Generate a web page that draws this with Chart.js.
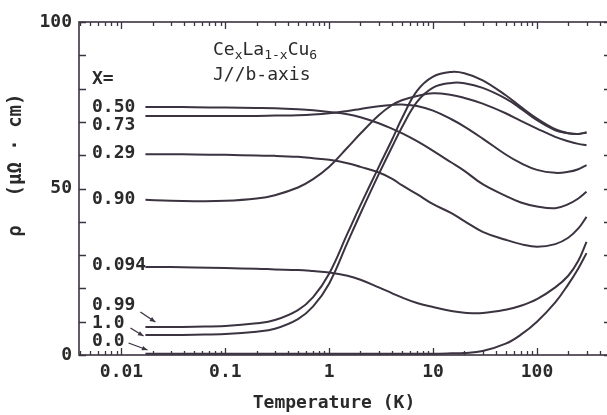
<!DOCTYPE html>
<html>
<head>
<meta charset="utf-8">
<title>CexLa1-xCu6 resistivity, J//b</title>
<script src="https://cdn.jsdelivr.net/npm/chart.js@4.4.1/dist/chart.umd.min.js"></script>
<style>
  html, body { margin: 0; padding: 0; background: #fff; overflow: hidden; }
  #wrap { width: 615px; height: 415px; }
</style>
</head>
<body>
<div id="wrap"><canvas id="rho" width="615" height="415"></canvas></div>
<script>
// temperature grid (K), shared by every curve
const TEMPS = [0.017, 0.03, 0.05, 0.1, 0.2, 0.3, 0.5, 0.7, 1, 1.5, 2, 3, 4, 5, 7, 10, 15, 20, 30, 50, 70, 100, 150, 200, 250, 300];

// resistivity rho (uOhm cm) for each Ce concentration x
const RHO_050  = [74.5, 74.5, 74.4, 74.3, 74.2, 74.1, 73.8, 73.5, 73.0, 72.3, 71.4, 69.6, 68.0, 66.6, 64.2, 61.3, 57.8, 55.3, 51.3, 47.8, 45.8, 44.6, 44.1, 45.3, 47.0, 49.0];
const RHO_073  = [71.8, 71.8, 71.8, 71.8, 71.8, 71.9, 72.0, 72.2, 72.6, 73.3, 73.9, 74.7, 75.1, 75.2, 74.8, 73.4, 70.8, 68.6, 65.0, 60.2, 57.6, 55.6, 54.7, 55.0, 55.8, 57.0];
const RHO_029  = [60.3, 60.3, 60.2, 60.1, 59.9, 59.8, 59.5, 59.1, 58.6, 57.6, 56.5, 54.8, 53.0, 51.0, 48.3, 45.3, 42.6, 40.2, 37.0, 34.6, 33.3, 32.5, 33.3, 35.2, 38.0, 41.5];
const RHO_090  = [46.6, 46.3, 46.2, 46.3, 47.0, 48.0, 50.3, 52.8, 56.5, 62.3, 66.5, 72.0, 75.0, 76.5, 77.8, 78.6, 78.1, 77.2, 75.5, 72.6, 70.3, 68.0, 65.5, 64.2, 63.4, 63.0];
const RHO_0094 = [26.4, 26.4, 26.3, 26.1, 25.9, 25.7, 25.5, 25.2, 24.8, 23.8, 22.6, 20.3, 18.6, 17.3, 15.6, 14.4, 13.2, 12.7, 12.6, 13.6, 14.8, 16.8, 20.3, 23.8, 28.3, 34.0];
const RHO_099  = [8.4, 8.4, 8.5, 8.7, 9.5, 10.5, 13.5, 17.4, 24.5, 36.5, 45.0, 56.5, 64.5, 71.0, 79.3, 83.6, 85.0, 84.6, 82.5, 78.0, 74.5, 71.0, 67.8, 66.6, 66.4, 66.8];
const RHO_100  = [6.0, 6.0, 6.1, 6.3, 7.0, 7.9, 10.8, 14.6, 21.5, 33.8, 42.5, 54.3, 62.3, 68.3, 76.0, 80.3, 81.7, 81.6, 80.2, 77.0, 74.0, 70.5, 67.5, 66.6, 66.4, 66.8];
const RHO_000  = [0.4, 0.4, 0.4, 0.4, 0.4, 0.4, 0.4, 0.4, 0.4, 0.4, 0.4, 0.4, 0.4, 0.4, 0.4, 0.4, 0.5, 0.6, 1.2, 3.4, 6.1, 10.0, 15.8, 21.2, 26.0, 30.6];

const CONC_LABELS = ['0.50', '0.73', '0.29', '0.90', '0.094', '0.99', '1.0', '0.0'];
const CONC_SERIES = [RHO_050, RHO_073, RHO_029, RHO_090, RHO_0094, RHO_099, RHO_100, RHO_000];
// where each x label sits on the rho axis (left margin of the plot)
const CONC_LABEL_RHO = [74.3, 69.0, 60.5, 46.7, 27.0, 14.9, 9.5, 4.1];

const X_TICKS = [0.01, 0.1, 1, 10, 100];
const X_TICK_LABELS = ['0.01', '0.1', '1', '10', '100'];
const Y_TICKS = [0, 50, 100];
const Y_TICK_LABELS = ['0', '50', '100'];

const INK = '#2a2a2a';
const LINE = '#3b3340';
const MONO = '"DejaVu Sans Mono", monospace';

// arrows pointing from the crowded labels to their curves: [T0, rho0, T1, rho1]
const ARROWS = [
  [0.0152, 12.9, 0.0212, 9.9],
  [0.0122, 8.1, 0.0163, 5.7],
  [0.0117, 3.6, 0.0178, 1.5]
];

function arrow(ctx, x0, y0, x1, y1) {
  const a = Math.atan2(y1 - y0, x1 - x0);
  ctx.beginPath();
  ctx.moveTo(x0, y0);
  ctx.lineTo(x1, y1);
  ctx.stroke();
  ctx.beginPath();
  ctx.moveTo(x1, y1);
  ctx.lineTo(x1 - 6 * Math.cos(a - 0.4), y1 - 6 * Math.sin(a - 0.4));
  ctx.lineTo(x1 - 6 * Math.cos(a + 0.4), y1 - 6 * Math.sin(a + 0.4));
  ctx.closePath();
  ctx.fill();
}

// text with subscript pieces: [[text, isSub], ...]
function chem(ctx, parts, x, y) {
  parts.forEach(([t, sub]) => {
    ctx.font = sub ? '13px ' + MONO : '18px ' + MONO;
    ctx.fillText(t, x, sub ? y + 4 : y);
    x += ctx.measureText(t).width;
  });
}

// box frame, inward ticks and all the text in and around the plot
const frame = {
  id: 'frame',
  afterDraw(chart) {
    const { ctx, chartArea: a, scales: { x, y } } = chart;
    ctx.save();
    ctx.strokeStyle = LINE;
    ctx.fillStyle = INK;
    ctx.lineWidth = 1.6;
    ctx.strokeRect(a.left, a.top, a.right - a.left, a.bottom - a.top);

    ctx.lineWidth = 1.3;
    ctx.beginPath();
    for (let k = -3; k <= 3; k++) {
      for (let m = 1; m <= 9; m++) {
        const v = m * Math.pow(10, k);
        if (v < x.min || v > x.max) continue;
        const px = Math.round(x.getPixelForValue(v)) + 0.5;
        const len = m === 1 ? 7 : 4;
        ctx.moveTo(px, a.bottom); ctx.lineTo(px, a.bottom - len);
        ctx.moveTo(px, a.top); ctx.lineTo(px, a.top + len);
      }
    }
    for (let v = 0; v <= 100; v += 10) {
      const py = Math.round(y.getPixelForValue(v)) + 0.5;
      ctx.moveTo(a.left, py); ctx.lineTo(a.left + 7, py);
      ctx.moveTo(a.right, py); ctx.lineTo(a.right - 7, py);
    }
    ctx.stroke();

    // concentration labels
    ctx.font = 'bold 18px ' + MONO;
    ctx.textBaseline = 'middle';
    ctx.textAlign = 'left';
    const lx = x.getPixelForValue(0.0052);
    CONC_LABELS.forEach((t, i) => ctx.fillText(t, lx, y.getPixelForValue(CONC_LABEL_RHO[i])));
    ctx.textBaseline = 'alphabetic';
    ctx.fillText('X=', lx, y.getPixelForValue(81.5));

    ctx.lineWidth = 1.3;
    ctx.fillStyle = LINE;
    ARROWS.forEach(([t0, r0, t1, r1]) =>
      arrow(ctx, x.getPixelForValue(t0), y.getPixelForValue(r0), x.getPixelForValue(t1), y.getPixelForValue(r1)));

    // sample and current direction
    ctx.fillStyle = INK;
    chem(ctx, [['Ce', false], ['x', true], ['La', false], ['1-x', true], ['Cu', false], ['6', true]], 213, 55);
    ctx.font = '18px ' + MONO;
    ctx.fillText('J//b-axis', 213, 80);

    // axis titles
    ctx.font = 'bold 18px ' + MONO;
    ctx.textAlign = 'center';
    ctx.fillText('Temperature (K)', 334, 408);
    ctx.translate(21, 0);
    ctx.rotate(-Math.PI / 2);
    ctx.font = 'bold 19px ' + MONO;
    ctx.fillText('ρ', -231, 0);
    ctx.fillText('(μΩ · cm)', -145, 0);
    ctx.restore();
  }
};

new Chart(document.getElementById('rho'), {
  type: 'line',
  data: {
    datasets: CONC_SERIES.map((rho, i) => ({
      label: 'x = ' + CONC_LABELS[i],
      data: TEMPS.map((t, j) => ({ x: t, y: rho[j] })),
      borderColor: LINE,
      borderWidth: 2,
      pointRadius: 0,
      fill: false,
      tension: 0.4
    }))
  },
  options: {
    responsive: false,
    animation: false,
    events: [],
    layout: { padding: { top: 22, right: 4, left: 0, bottom: 0 } },
    plugins: { legend: { display: false }, tooltip: { enabled: false } },
    scales: {
      x: {
        type: 'logarithmic',
        min: 0.0039,
        max: 516,
        afterBuildTicks: s => { s.ticks = X_TICKS.map(v => ({ value: v })); },
        afterFit: s => { s.height = 60; },
        grid: { display: false, drawTicks: false },
        border: { display: false },
        ticks: {
          autoSkip: false, maxRotation: 0, padding: 7, color: INK,
          font: { family: MONO, size: 18, weight: 'bold' },
          callback: v => X_TICK_LABELS[X_TICKS.indexOf(v)]
        }
      },
      y: {
        min: 0,
        max: 100,
        afterBuildTicks: s => { s.ticks = Y_TICKS.map(v => ({ value: v })); },
        afterFit: s => { s.width = 79; },
        grid: { display: false, drawTicks: false },
        border: { display: false },
        ticks: {
          padding: 7, color: INK,
          font: { family: MONO, size: 18, weight: 'bold' },
          callback: v => Y_TICK_LABELS[Y_TICKS.indexOf(v)]
        }
      }
    }
  },
  plugins: [frame]
});
</script>
</body>
</html>
